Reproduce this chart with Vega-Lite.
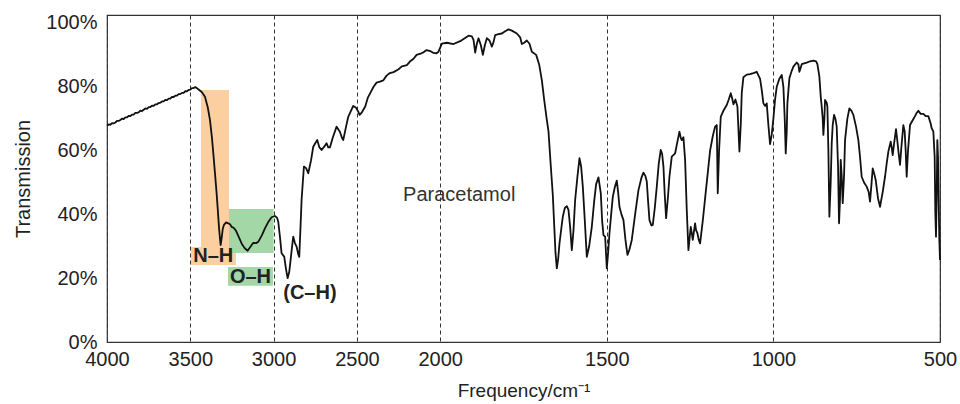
{
  "$schema": "https://vega.github.io/schema/vega-lite/v6.json",
  "width": 833,
  "height": 327,
  "autosize": "none",
  "padding": {"left": 107, "top": 15, "right": 20, "bottom": 62},
  "background": "white",
  "config": {
    "view": {"stroke": "#333", "strokeWidth": 1.2},
    "font": "Liberation Sans"
  },
  "datasets": {
    "spectrum": [
      {"f":4000,"T":67.8},{"f":3990,"T":68.2},{"f":3980,"T":68.1},{"f":3970,"T":68.6},{"f":3960,"T":68.5},{"f":3950,"T":68.8},{"f":3940,"T":69.3},{"f":3930,"T":69.3},{"f":3920,"T":69.6},{"f":3910,"T":70.0},{"f":3900,"T":69.9},{"f":3890,"T":70.4},{"f":3880,"T":70.4},{"f":3870,"T":70.9},{"f":3860,"T":70.8},{"f":3850,"T":71.3},{"f":3840,"T":71.3},{"f":3830,"T":71.8},{"f":3820,"T":71.8},{"f":3810,"T":72.0},{"f":3800,"T":72.5},{"f":3790,"T":72.4},{"f":3780,"T":72.8},{"f":3770,"T":73.2},{"f":3760,"T":73.1},{"f":3750,"T":73.6},{"f":3740,"T":73.6},{"f":3730,"T":74.1},{"f":3720,"T":74.0},{"f":3710,"T":74.5},{"f":3700,"T":74.5},{"f":3690,"T":74.9},{"f":3680,"T":75.0},{"f":3670,"T":75.4},{"f":3660,"T":75.4},{"f":3650,"T":75.9},{"f":3640,"T":75.8},{"f":3630,"T":76.3},{"f":3620,"T":76.3},{"f":3610,"T":76.8},{"f":3600,"T":76.8},{"f":3590,"T":77.2},{"f":3580,"T":77.2},{"f":3570,"T":77.7},{"f":3560,"T":77.7},{"f":3550,"T":78.1},{"f":3540,"T":78.1},{"f":3530,"T":78.6},{"f":3520,"T":78.6},{"f":3510,"T":79.0},{"f":3500,"T":79.1},{"f":3490,"T":79.6},{"f":3480,"T":79.6},{"f":3470,"T":79.9},{"f":3462,"T":79.6},
      {"f":3452,"T":79.2},{"f":3430,"T":78.3},{"f":3412,"T":76.9},{"f":3395,"T":73.5},{"f":3382,"T":69.6},{"f":3370,"T":64.0},{"f":3362,"T":59.2},{"f":3352,"T":53.0},{"f":3342,"T":46.6},{"f":3335,"T":41.5},{"f":3328,"T":36.1},{"f":3322,"T":32.5},{"f":3318,"T":30.4},{"f":3312,"T":32.5},{"f":3305,"T":35.5},{"f":3298,"T":36.7},{"f":3285,"T":37.5},{"f":3272,"T":37.2},{"f":3260,"T":36.8},{"f":3252,"T":36.1},{"f":3240,"T":35.8},{"f":3226,"T":34.9},{"f":3210,"T":33.0},{"f":3192,"T":30.9},{"f":3175,"T":29.5},{"f":3156,"T":28.6},{"f":3140,"T":29.8},{"f":3122,"T":31.1},{"f":3105,"T":31.0},{"f":3092,"T":31.4},{"f":3070,"T":33.5},{"f":3052,"T":35.6},{"f":3030,"T":37.8},{"f":3012,"T":39.1},{"f":2992,"T":39.5},{"f":2980,"T":39.0},{"f":2972,"T":37.7},{"f":2962,"T":33.0},{"f":2952,"T":27.8},{"f":2940,"T":27.0},{"f":2936,"T":26.7},{"f":2926,"T":23.0},{"f":2916,"T":20.0},{"f":2906,"T":22.0},{"f":2898,"T":25.7},{"f":2890,"T":29.5},{"f":2882,"T":33.0},{"f":2872,"T":31.0},{"f":2862,"T":29.9},{"f":2852,"T":27.5},{"f":2846,"T":26.7},{"f":2840,"T":34.0},{"f":2832,"T":44.5},{"f":2818,"T":55.0},{"f":2805,"T":54.5},{"f":2792,"T":52.9},{"f":2775,"T":57.0},{"f":2762,"T":61.2},{"f":2750,"T":62.3},{"f":2738,"T":63.3},{"f":2725,"T":61.0},{"f":2712,"T":60.2},{"f":2695,"T":61.3},{"f":2682,"T":62.3},{"f":2672,"T":61.0},{"f":2662,"T":61.0},{"f":2645,"T":64.0},{"f":2622,"T":67.5},{"f":2610,"T":66.5},{"f":2602,"T":65.9},{"f":2590,"T":64.0},{"f":2582,"T":63.3},{"f":2565,"T":67.5},{"f":2552,"T":70.6},{"f":2535,"T":72.5},{"f":2522,"T":74.0},{"f":2505,"T":73.4},{"f":2492,"T":72.2},{"f":2484,"T":71.2},{"f":2470,"T":72.0},{"f":2450,"T":73.8},{"f":2435,"T":76.5},{"f":2420,"T":78.0},{"f":2400,"T":80.0},{"f":2382,"T":81.3},{"f":2362,"T":81.6},{"f":2342,"T":82.0},{"f":2322,"T":83.5},{"f":2302,"T":84.3},{"f":2280,"T":84.6},{"f":2252,"T":85.4},{"f":2230,"T":86.4},{"f":2200,"T":86.8},{"f":2182,"T":87.9},{"f":2160,"T":88.8},{"f":2142,"T":90.0},{"f":2113,"T":90.5},{"f":2100,"T":90.8},{"f":2082,"T":91.5},{"f":2060,"T":91.2},{"f":2040,"T":90.6},{"f":2022,"T":90.5},{"f":2010,"T":91.0},{"f":1995,"T":93.5},{"f":1980,"T":93.8},{"f":1960,"T":93.4},{"f":1940,"T":94.3},{"f":1915,"T":96.0},{"f":1905,"T":95.8},{"f":1900,"T":94.7},{"f":1895,"T":90.7},{"f":1890,"T":93.5},{"f":1885,"T":95.2},{"f":1878,"T":93.0},{"f":1872,"T":90.0},{"f":1866,"T":93.0},{"f":1860,"T":95.2},{"f":1852,"T":94.5},{"f":1845,"T":92.6},{"f":1840,"T":94.0},{"f":1835,"T":96.2},{"f":1825,"T":96.5},{"f":1815,"T":96.7},{"f":1805,"T":97.4},{"f":1795,"T":98.0},{"f":1785,"T":97.6},{"f":1770,"T":96.7},{"f":1760,"T":95.5},{"f":1755,"T":93.4},{"f":1748,"T":93.8},{"f":1740,"T":94.5},{"f":1732,"T":93.5},{"f":1725,"T":91.0},{"f":1712,"T":90.0},{"f":1703,"T":87.0},{"f":1695,"T":82.1},{"f":1688,"T":76.0},{"f":1680,"T":69.6},{"f":1675,"T":66.0},{"f":1668,"T":55.0},{"f":1662,"T":46.0},{"f":1658,"T":37.0},{"f":1654,"T":28.0},{"f":1650,"T":23.1},{"f":1646,"T":26.0},{"f":1642,"T":30.9},{"f":1636,"T":36.0},{"f":1632,"T":39.3},{"f":1626,"T":42.0},{"f":1620,"T":42.6},{"f":1615,"T":41.4},{"f":1610,"T":36.0},{"f":1605,"T":28.8},{"f":1600,"T":35.0},{"f":1595,"T":44.5},{"f":1588,"T":52.0},{"f":1582,"T":57.6},{"f":1577,"T":55.0},{"f":1572,"T":48.7},{"f":1566,"T":38.0},{"f":1560,"T":26.7},{"f":1553,"T":30.0},{"f":1545,"T":36.1},{"f":1538,"T":44.0},{"f":1532,"T":49.5},{"f":1525,"T":51.6},{"f":1518,"T":46.6},{"f":1514,"T":38.0},{"f":1510,"T":33.5},{"f":1505,"T":33.0},{"f":1500,"T":23.1},{"f":1496,"T":28.0},{"f":1492,"T":34.1},{"f":1486,"T":41.0},{"f":1482,"T":45.5},{"f":1476,"T":48.5},{"f":1470,"T":50.6},{"f":1466,"T":47.0},{"f":1462,"T":42.4},{"f":1456,"T":40.0},{"f":1450,"T":38.2},{"f":1444,"T":32.0},{"f":1438,"T":27.3},{"f":1432,"T":29.0},{"f":1425,"T":32.0},{"f":1415,"T":40.0},{"f":1405,"T":47.6},{"f":1396,"T":51.5},{"f":1390,"T":53.1},{"f":1384,"T":52.0},{"f":1380,"T":50.3},{"f":1376,"T":44.0},{"f":1372,"T":38.2},{"f":1366,"T":36.5},{"f":1362,"T":36.7},{"f":1356,"T":42.0},{"f":1350,"T":48.7},{"f":1344,"T":56.0},{"f":1338,"T":60.2},{"f":1334,"T":59.0},{"f":1330,"T":55.0},{"f":1326,"T":46.0},{"f":1322,"T":38.8},{"f":1316,"T":46.0},{"f":1312,"T":51.8},{"f":1305,"T":58.1},{"f":1295,"T":59.1},{"f":1290,"T":61.8},{"f":1282,"T":65.9},{"f":1278,"T":64.0},{"f":1275,"T":63.3},{"f":1270,"T":64.2},{"f":1265,"T":57.1},{"f":1260,"T":41.4},{"f":1255,"T":28.8},{"f":1252,"T":32.0},{"f":1248,"T":36.1},{"f":1244,"T":33.5},{"f":1242,"T":32.0},{"f":1238,"T":35.0},{"f":1235,"T":37.2},{"f":1232,"T":35.0},{"f":1228,"T":34.1},{"f":1224,"T":32.0},{"f":1220,"T":30.9},{"f":1212,"T":38.0},{"f":1205,"T":45.0},{"f":1198,"T":52.0},{"f":1190,"T":60.0},{"f":1182,"T":64.5},{"f":1175,"T":67.5},{"f":1170,"T":68.0},{"f":1167,"T":46.6},{"f":1163,"T":60.0},{"f":1158,"T":70.6},{"f":1150,"T":72.5},{"f":1140,"T":74.3},{"f":1134,"T":76.0},{"f":1128,"T":78.0},{"f":1124,"T":76.5},{"f":1120,"T":74.5},{"f":1114,"T":76.0},{"f":1108,"T":73.8},{"f":1102,"T":59.7},{"f":1098,"T":68.0},{"f":1095,"T":78.0},{"f":1090,"T":83.0},{"f":1080,"T":83.8},{"f":1070,"T":84.0},{"f":1060,"T":84.3},{"f":1050,"T":84.7},{"f":1040,"T":82.5},{"f":1035,"T":79.0},{"f":1030,"T":74.8},{"f":1025,"T":74.0},{"f":1020,"T":74.8},{"f":1015,"T":68.0},{"f":1010,"T":62.0},{"f":1005,"T":65.0},{"f":1000,"T":70.0},{"f":995,"T":76.0},{"f":990,"T":80.0},{"f":982,"T":82.5},{"f":975,"T":83.7},{"f":970,"T":80.0},{"f":966,"T":70.0},{"f":963,"T":59.1},{"f":960,"T":66.0},{"f":958,"T":74.8},{"f":952,"T":82.7},{"f":945,"T":85.0},{"f":940,"T":86.3},{"f":930,"T":87.6},{"f":925,"T":87.0},{"f":922,"T":84.7},{"f":918,"T":86.0},{"f":915,"T":87.1},{"f":900,"T":87.6},{"f":890,"T":88.0},{"f":880,"T":88.2},{"f":872,"T":88.0},{"f":868,"T":87.1},{"f":862,"T":83.2},{"f":858,"T":77.0},{"f":855,"T":73.8},{"f":852,"T":70.0},{"f":850,"T":64.9},{"f":847,"T":70.0},{"f":845,"T":75.9},{"f":840,"T":75.0},{"f":838,"T":73.8},{"f":835,"T":60.0},{"f":832,"T":39.3},{"f":828,"T":50.0},{"f":825,"T":62.3},{"f":822,"T":68.0},{"f":818,"T":71.2},{"f":814,"T":70.0},{"f":810,"T":67.5},{"f":806,"T":55.0},{"f":803,"T":37.2},{"f":800,"T":45.0},{"f":798,"T":57.1},{"f":795,"T":52.0},{"f":792,"T":43.5},{"f":788,"T":52.0},{"f":785,"T":63.3},{"f":778,"T":70.0},{"f":772,"T":73.2},{"f":766,"T":72.5},{"f":760,"T":71.2},{"f":752,"T":67.5},{"f":745,"T":63.3},{"f":740,"T":58.0},{"f":735,"T":51.8},{"f":728,"T":50.0},{"f":720,"T":48.7},{"f":714,"T":47.0},{"f":710,"T":44.0},{"f":706,"T":49.0},{"f":702,"T":54.4},{"f":698,"T":53.0},{"f":693,"T":50.8},{"f":686,"T":45.0},{"f":680,"T":42.4},{"f":672,"T":47.0},{"f":665,"T":51.8},{"f":660,"T":56.0},{"f":655,"T":59.7},{"f":648,"T":62.8},{"f":645,"T":61.0},{"f":642,"T":58.6},{"f":638,"T":62.0},{"f":632,"T":66.7},{"f":628,"T":63.0},{"f":624,"T":59.0},{"f":620,"T":55.5},{"f":616,"T":61.0},{"f":610,"T":68.0},{"f":606,"T":66.0},{"f":603,"T":60.0},{"f":600,"T":51.8},{"f":596,"T":60.0},{"f":590,"T":68.0},{"f":582,"T":69.5},{"f":575,"T":70.8},{"f":570,"T":71.8},{"f":565,"T":72.5},{"f":558,"T":71.5},{"f":550,"T":71.5},{"f":543,"T":70.8},{"f":535,"T":70.8},{"f":528,"T":68.5},{"f":525,"T":67.0},{"f":520,"T":66.0},{"f":516,"T":58.0},{"f":514,"T":40.3},{"f":512,"T":33.0},{"f":510,"T":45.0},{"f":508,"T":63.3},{"f":506,"T":58.0},{"f":505,"T":50.8},{"f":502,"T":32.0},{"f":500,"T":25.7}
    ],
    "boxes": [
      {"band":"NH","f":3436,"f2":3268,"T":29.8,"T2":79.0},
      {"band":"NH","f":3496,"f2":3226,"T":24.1,"T2":29.8},
      {"band":"OH","f":3268,"f2":3000,"T":27.9,"T2":41.7},
      {"band":"OH","f":3274,"f2":3004,"T":17.6,"T2":23.5}
    ],
    "labels": [
      {"label":"N–H","f":3362,"T":27.0,"kind":"bold"},
      {"label":"O–H","f":3139,"T":20.4,"kind":"bold"},
      {"label":"(C–H)","f":2782,"T":15.4,"kind":"bold"},
      {"label":"Paracetamol","f":1943,"T":46.1,"kind":"plain"}
    ]
  },
  "layer": [
    {
      "data": {"name": "boxes"},
      "mark": {"type": "rect"},
      "encoding": {
        "x": {"field": "f", "type": "quantitative"},
        "x2": {"field": "f2"},
        "y": {"field": "T", "type": "quantitative"},
        "y2": {"field": "T2"},
        "color": {"field": "band", "type": "nominal", "scale": {"domain": ["NH","OH"], "range": ["#FCCFA1","#A3D7A6"]}, "legend": null}
      }
    },
    {
      "data": {"name": "spectrum"},
      "mark": {"type": "line", "color": "#111", "strokeWidth": 1.8, "strokeJoin": "round"},
      "encoding": {
        "x": {
          "field": "f", "type": "quantitative",
          "scale": {"type": "linear", "domain": [4000, 2000, 500], "range": [0, 333.2, 833], "nice": false, "zero": false},
          "axis": {
            "values": [4000,3500,3000,2500,2000,1500,1000,500],
            "format": "d",
            "grid": true, "gridDash": [4,3], "gridColor": "#333", "gridWidth": 1, "gridOpacity": 1,
            "ticks": false, "domain": false,
            "labelFlush": false, "labelOverlap": false, "labelBound": false,
            "labelFontSize": 20, "labelColor": "#222", "labelPadding": 7,
            "title": "Frequency/cm⁻¹", "titleFontSize": 19, "titleFontWeight": "normal", "titleColor": "#222", "titlePadding": 12
          }
        },
        "y": {
          "field": "T", "type": "quantitative",
          "scale": {"domain": [0, 102.5], "nice": false, "zero": false},
          "axis": {
            "values": [0,20,40,60,80,100],
            "labelExpr": "datum.value + '%'",
            "grid": false, "ticks": false, "domain": false,
            "labelFontSize": 20, "labelColor": "#222", "labelPadding": 10,
            "title": "Transmission", "titleFontSize": 20, "titleFontWeight": "normal", "titleColor": "#222", "titlePadding": 12
          }
        }
      }
    },
    {
      "data": {"name": "labels"},
      "transform": [{"filter": "datum.kind === 'bold'"}],
      "mark": {"type": "text", "fontSize": 20, "fontWeight": "bold", "color": "#222", "align": "center", "baseline": "middle"},
      "encoding": {
        "x": {"field": "f", "type": "quantitative"},
        "y": {"field": "T", "type": "quantitative"},
        "text": {"field": "label"}
      }
    },
    {
      "data": {"name": "labels"},
      "transform": [{"filter": "datum.kind === 'plain'"}],
      "mark": {"type": "text", "fontSize": 20, "color": "#333", "align": "center", "baseline": "middle"},
      "encoding": {
        "x": {"field": "f", "type": "quantitative"},
        "y": {"field": "T", "type": "quantitative"},
        "text": {"field": "label"}
      }
    }
  ]
}
